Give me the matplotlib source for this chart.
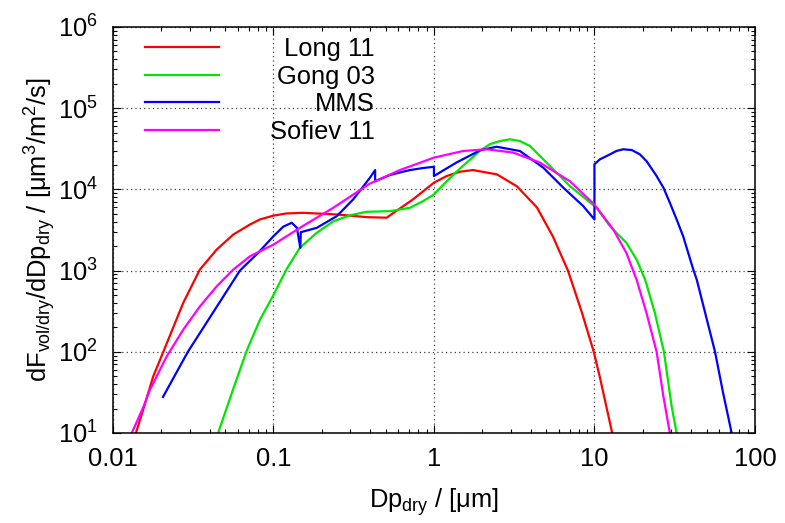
import matplotlib
matplotlib.use("Agg")
import matplotlib.pyplot as plt
from matplotlib.ticker import LogLocator, FixedLocator, FixedFormatter, NullFormatter

plt.rcParams['font.family'] = ['Liberation Sans', 'DejaVu Sans']
plt.rcParams['mathtext.fontset'] = 'custom'
plt.rcParams['mathtext.rm'] = 'Liberation Sans'
plt.rcParams['mathtext.it'] = 'Liberation Sans:italic'
plt.rcParams['mathtext.default'] = 'regular'

# Dry diameter [um] and volume flux dF/dDp [um^3/m^2/s] for each source function
dp_long = [0.0139, 0.0154, 0.0178, 0.0206, 0.0237, 0.0274, 0.0348, 0.0443, 0.0562, 0.0715,
           0.0824, 0.100, 0.120, 0.153, 0.249, 0.383, 0.507, 0.74, 1.0, 1.2, 1.45, 1.75,
           2.47, 3.29, 4.38, 5.51, 6.84, 8.36, 9.9, 10.8, 12.9]
f_long = [10, 19.2, 49.5, 100, 198, 400, 1030, 1815, 2780, 3700,
          4266, 4750, 5050, 5150, 4910, 4550, 4480, 7530, 12100, 14600, 16500, 17300,
          15300, 10900, 6000, 2630, 1000, 303, 100, 49, 10]

dp_gong = [0.0452, 0.0562, 0.0681, 0.0824, 0.1, 0.121, 0.146, 0.186, 0.236, 0.30, 0.381,
           0.532, 0.708, 0.857, 1.0, 1.2, 1.45, 1.94, 2.23, 2.58, 2.97, 3.43, 3.96, 5.28,
           7.03, 10.3, 12.5, 15.8, 18.3, 20.7, 23.8, 27.1, 30.3, 32.5]
f_gong = [10, 35, 103, 248, 500, 1050, 1905, 2920, 4040, 4800, 5300,
          5390, 5940, 7180, 8670, 12600, 18000, 30000, 36000, 39400, 41400, 39400, 34300, 19400,
          11000, 5940, 3520, 2200, 1370, 774, 301, 100, 21.1, 10]

dp_mms = [0.0205, 0.0293, 0.0618, 0.0803, 0.1, 0.115, 0.130, 0.140, 0.147, 0.148,
          0.186, 0.248, 0.314, 0.399, 0.43, 0.43, 0.53, 0.64, 0.71, 0.85, 1.0, 1.0,
          1.38, 1.94, 2.46, 3.43, 4.80, 6.40, 8.51, 10.0, 10.0, 10.8, 12.5, 13.7, 15.1,
          17.1, 19.2, 21.1, 24.4, 26.9, 29.5, 32.5, 35.7, 41.3, 43.4, 56.4, 63.4, 71.6]
f_mms = [27.8, 100, 1000, 1656, 2650, 3470, 3880, 3360, 1900, 2970,
         3360, 4680, 7530, 13900, 17300, 12600, 15000, 16500, 17300, 18300, 19000, 14600,
         21400, 30300, 33500, 29700, 18500, 10500, 6230, 4270, 20400, 23400, 27000, 29700, 31200,
         30500, 27000, 22300, 14600, 10500, 6850, 4270, 2650, 1030, 774, 100, 30.9, 10]

dp_sof = [0.0131, 0.0155, 0.0170, 0.0216, 0.0274, 0.0348, 0.0443, 0.0562, 0.0715, 0.1,
          0.146, 0.236, 0.399, 0.614, 1.0, 1.52, 2.13, 3.12, 4.57, 7.03, 10.0, 13.1,
          15.8, 18.3, 21.1, 24.4, 26.9, 29.5]
f_sof = [10, 21.1, 34, 87.5, 187, 362, 640, 1030, 1503, 2090,
         3360, 5940, 11800, 17300, 24600, 29700, 31200, 28400, 21400, 12600, 6500, 3206,
         1656, 774, 301, 100, 28.1, 10]

series = [
    ("Long 11", dp_long, f_long, "#ff0000"),
    ("Gong 03", dp_gong, f_gong, "#00e600"),
    ("MMS", dp_mms, f_mms, "#0000ff"),
    ("Sofiev 11", dp_sof, f_sof, "#ff00ff"),
]

x_ticks = [0.01, 0.1, 1, 10, 100]
x_tick_labels = ["0.01", "0.1", "1", "10", "100"]
y_ticks = [1e1, 1e2, 1e3, 1e4, 1e5, 1e6]
y_tick_labels = [r"$10^{%d}$" % k for k in range(1, 7)]

FS = 18.4

fig = plt.figure(figsize=(7.85, 5.23), dpi=100)
ax = fig.add_axes([0.1439, 0.1721, 0.8178, 0.7763])

for name, x, y, c in series:
    ax.plot(x, y, color=c, lw=1.6, label=name, solid_joinstyle='round')

ax.set_xscale('log')
ax.set_yscale('log')
ax.set_xlim(0.01, 100)
ax.set_ylim(10, 1e6)

ax.xaxis.set_major_locator(FixedLocator(x_ticks))
ax.xaxis.set_major_formatter(FixedFormatter(x_tick_labels))
ax.yaxis.set_major_locator(FixedLocator(y_ticks))
ax.yaxis.set_major_formatter(FixedFormatter(y_tick_labels))
for a in (ax.xaxis, ax.yaxis):
    a.set_minor_locator(LogLocator(base=10, subs=range(2, 10), numticks=20))
    a.set_minor_formatter(NullFormatter())

ax.tick_params(which='both', direction='in', top=True, right=True, width=0.8, color='black')
ax.tick_params(which='major', length=6)
ax.tick_params(which='minor', length=3.2)
ax.tick_params(axis='x', which='major', labelsize=FS, pad=10)
ax.tick_params(axis='y', which='major', labelsize=FS, pad=11)

ax.grid(True, which='major', color='0.25', linestyle=(0, (1, 2.5)), lw=0.9)
for s in ax.spines.values():
    s.set_linewidth(1.1)

ax.set_xlabel(r"Dp$_{dry}$ / [μm]", fontsize=FS, labelpad=11)
ax.set_ylabel(r"dF$_{vol/dry}$/dDp$_{dry}$ / [μm$^{3}$/m$^{2}$/s]", fontsize=FS, labelpad=0)

# key: samples on the left, labels flush right
leg = ax.legend(loc='upper left', bbox_to_anchor=(0.0498, 0.976), frameon=False,
                fontsize=FS, handlelength=2.9, handletextpad=2.0, labelspacing=0.15,
                borderpad=0, borderaxespad=0)
fig.canvas.draw()
r = fig.canvas.get_renderer()
texts = leg.get_texts()
widths = [t.get_window_extent(r).width for t in texts]
wmax = max(widths)
for t, wi in zip(texts, widths):
    t.set_x(wmax - wi)

fig.savefig("out.png", dpi=100)
